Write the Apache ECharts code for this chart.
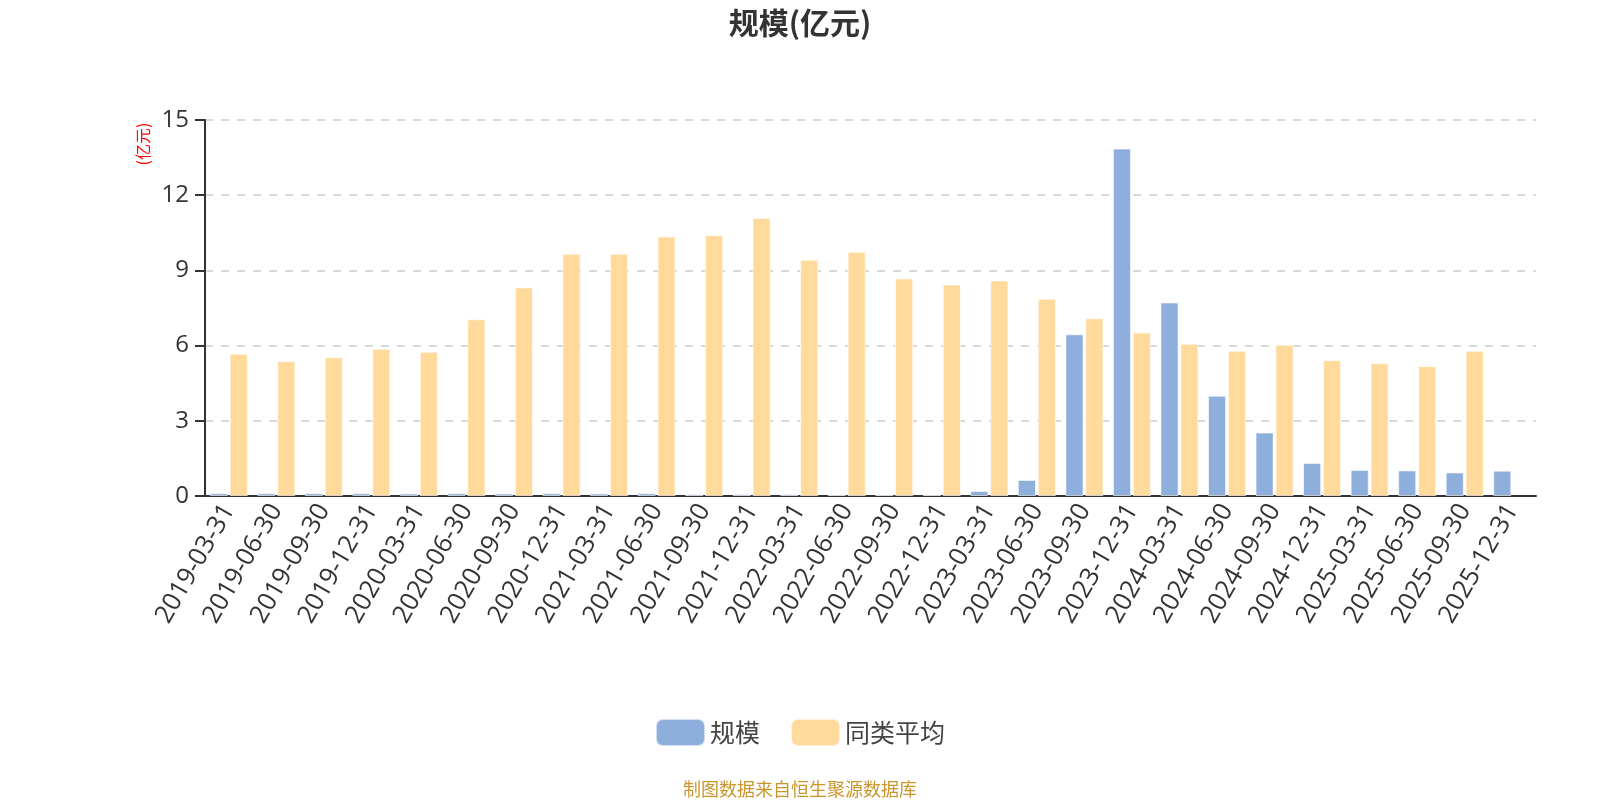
<!DOCTYPE html>
<html>
<head>
<meta charset="utf-8">
<script src="https://cdn.jsdelivr.net/npm/echarts@6/dist/echarts.min.js"></script>
<style>html,body{margin:0;padding:0;background:#fff}#c{width:1600px;height:800px}</style>
</head>
<body>
<div id="c"></div>
<script>
const categories = ['2019-03-31','2019-06-30','2019-09-30','2019-12-31','2020-03-31','2020-06-30','2020-09-30','2020-12-31','2021-03-31','2021-06-30','2021-09-30','2021-12-31','2022-03-31','2022-06-30','2022-09-30','2022-12-31','2023-03-31','2023-06-30','2023-09-30','2023-12-31','2024-03-31','2024-06-30','2024-09-30','2024-12-31','2025-03-31','2025-06-30','2025-09-30','2025-12-31'];
const scaleValues = [0.11,0.11,0.11,0.11,0.10,0.11,0.10,0.11,0.10,0.11,0.07,0.07,0.07,0.06,0.06,0.06,0.20,0.64,6.45,13.86,7.72,4.00,2.53,1.32,1.04,1.02,0.94,1.01];
const avgValues = [5.67,5.38,5.54,5.87,5.75,7.05,8.32,9.66,9.66,10.35,10.40,11.09,9.42,9.74,8.68,8.44,8.60,7.87,7.09,6.52,6.07,5.79,6.03,5.42,5.30,5.18,5.79,null];
const yTicks = {min: 0, max: 15, interval: 3};

const chart = echarts.init(document.getElementById('c'));
const FONT = '"Noto Sans CJK SC","Noto Sans",sans-serif';
const NUMFONT = '"Open Sans","Noto Sans",sans-serif';
chart.setOption({
  animation: false,
  textStyle: {fontFamily: FONT},
  title: {
    text: '规模(亿元)', left: 'center', top: 3,
    textStyle: {fontSize: 30, fontWeight: 'bold', color: '#333', fontFamily: FONT}
  },
  legend: {
    bottom: 48, left: 'center', itemWidth: 49, itemHeight: 27, itemGap: 30,
    textStyle: {fontSize: 25, color: '#444', fontFamily: FONT},
    data: ['规模', '同类平均']
  },
  graphic: [
    {type: 'text', x: 800, y: 789, style: {text: '制图数据来自恒生聚源数据库', fill: '#c9962b', fontSize: 18, fontFamily: FONT, textAlign: 'center', textVerticalAlign: 'middle'}},
    {type: 'text', x: 143, y: 144, rotation: Math.PI / 2, style: {text: '(亿元)', fill: '#ff0000', fontSize: 16, fontFamily: FONT, textAlign: 'center', textVerticalAlign: 'middle'}}
  ],
  grid: {left: 205, right: 64, top: 120, bottom: 304},
  xAxis: {
    type: 'category', data: categories,
    axisLine: {lineStyle: {color: '#333', width: 2}},
    axisTick: {length: 8, lineStyle: {color: '#333', width: 2}},
    axisLabel: {rotate: 60, fontSize: 25.5, color: '#333', margin: 10, interval: 0, fontFamily: NUMFONT}
  },
  yAxis: {
    type: 'value', min: yTicks.min, max: yTicks.max, interval: yTicks.interval,
    axisLine: {show: true, lineStyle: {color: '#333', width: 2}},
    axisTick: {show: true, length: 10, lineStyle: {color: '#333', width: 2}},
    axisLabel: {fontSize: 24, color: '#333', margin: 16, fontFamily: NUMFONT},
    splitLine: {lineStyle: {color: '#cccccc', width: 1.5, type: [8, 8]}}
  },
  series: [
    {name: '规模', type: 'bar', data: scaleValues, barGap: '10%', barCategoryGap: '20%',
     itemStyle: {color: '#8eaedb', borderColor: 'rgba(255,255,255,0.6)', borderWidth: 1}},
    {name: '同类平均', type: 'bar', data: avgValues,
     itemStyle: {color: '#ffda9b', borderColor: 'rgba(255,255,255,0.6)', borderWidth: 1}}
  ]
});
</script>
</body>
</html>
